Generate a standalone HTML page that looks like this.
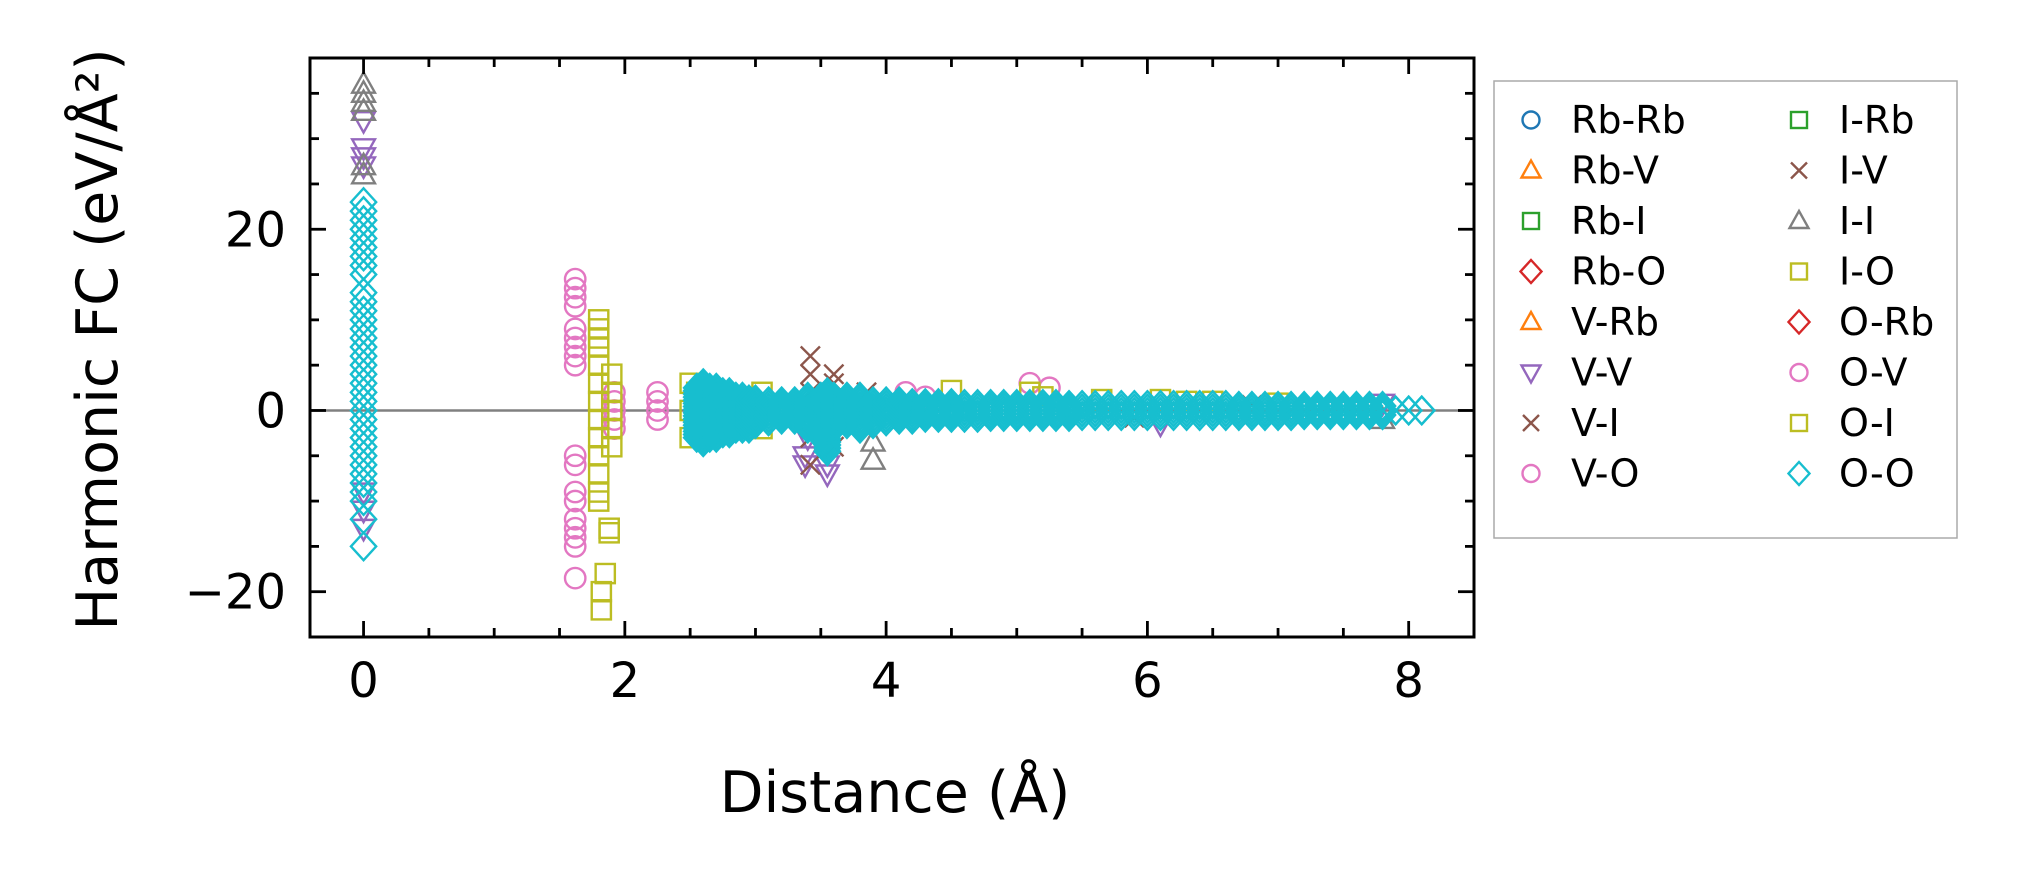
<!DOCTYPE html>
<html><head><meta charset="utf-8">
<style>
html,body{margin:0;padding:0;background:#fff;}
svg{display:block;font-family:"DejaVu Sans","Liberation Sans",sans-serif;}
</style></head>
<body>
<svg id="chart" width="2018" height="883" viewBox="0 0 2018 883" xmlns="http://www.w3.org/2000/svg">
<rect width="2018" height="883" fill="#fff"/>
<defs><clipPath id="pc"><rect x="310" y="58" width="1164" height="579"/></clipPath></defs>
<g id="marks" clip-path="url(#pc)"></g>
<g id="axes"></g>
<g id="legend"></g>
</svg>
<script>
// ---- data ----
const xTicks = [0, 2, 4, 6, 8];
const yTicks = [-20, 0, 20];
const xLabel = "Distance (Å)";
const yLabel = "Harmonic FC (eV/Å²)";

// I-I (gray up triangles)
const iiX = [0, 0, 0, 0, 0, 0, 3.9, 3.9, 7.8];
const iiY = [36, 35, 34, 33, 27, 26, -3.5, -5.5, -1];
// V-V (purple down triangles)
const vvX = [0, 0, 0, 0, 0, 0, 0, 3.38, 3.38, 3.4, 3.55, 3.55, 6.1, 7.8];
const vvY = [32, 29, 28, 27, -9, -11, -13, -6, -5, -3, -7, -6, -1.5, 0.8];
// V-I (brown crosses)
const viX = [3.42, 3.42, 3.42, 3.42, 3.42, 3.6, 3.6, 3.6, 3.7, 3.85, 5.9, 6.8];
const viY = [6, 4, 2, -3, -6, 4, 3, -4, -1.5, 2, -0.8, 0.6];
// V-O (pink circles)
const voX = [1.62,1.62,1.62,1.62,1.62,1.62,1.62,1.62,1.62,1.62,1.62,1.62,1.62,1.62,1.62,1.62,1.62,1.62,1.92,1.92,1.92,1.92,1.92,2.25,2.25,2.25,2.25,3.55,4.15,4.3,5.1,5.25];
const voY = [14.5,13.5,12.5,11.5,9,8,7,6,5,-5,-6,-9,-10,-12,-13,-14,-15,-18.5,2,1,0,-1,-2,2,1,0,-1,2,2,1.5,3,2.5];
// I-O / O-I (olive squares)
const ioX = [1.8,1.8,1.8,1.8,1.8,1.8,1.8,1.8,1.8,1.8,1.8,1.8,1.8,1.88,1.88,1.85,1.82,1.82,1.9,1.9,1.9,1.9,1.9,2.5,2.5,2.5,2.55,3.05,3.05,4.5,5.1,5.2,5.65,6.1,6.3,6.5,7.0];
const ioY = [10,9,8,7,5,3,1,-1,-3,-5,-7,-9,-10,-13,-13.5,-18,-20,-22,4,2,0,-2,-4,3,0,-3,2,2,-2,2.2,2,1.5,1.2,1.2,1,1,0.8];
// O-O (cyan diamonds)
const ooX = [0,0,0,0,0,0,0,0,0,0,0,0,0,0,0,0,0,0,0,0,0,0,0,0,0,0,0,0,0,0,0,0,0,0,0];
const ooY = [23,22,21,20,19,18,17,16,15,13,12,11,10,9,8,7,6,5,4,3,2,1,0,-1,-2,-3,-4,-5,-6,-7,-8,-9,-10,-12,-15];
const bandX  = [2.55,2.6,2.65,2.7,2.75,2.8,2.85,2.9,2.95,3.0,3.1,3.2,3.3,3.4,3.5,3.55,3.6,3.7,3.8,3.9,4.0,4.1,4.2,4.3,4.4,4.5,4.6,4.7,4.8,4.9,5.0,5.1,5.2,5.3,5.4,5.5,5.6,5.7,5.8,5.9,6.0,6.1,6.2,6.3,6.4,6.5,6.6,6.7,6.8,6.9,7.0,7.1,7.2,7.3,7.4,7.5,7.6,7.7,7.8,7.9,8.0,8.1];
const bandLo = [-3,-3.5,-3,-3,-2.5,-2.5,-2,-2,-2,-1.5,-1.2,-1,-1,-2,-3,-4.5,-2,-1.5,-2,-1.5,-1.2,-1,-1,-0.8,-0.8,-0.8,-0.8,-0.8,-0.7,-0.7,-0.7,-0.7,-0.7,-0.7,-0.7,-0.6,-0.6,-0.6,-0.6,-0.6,-0.6,-0.6,-0.6,-0.6,-0.6,-0.6,-0.6,-0.6,-0.6,-0.6,-0.6,-0.6,-0.5,-0.5,-0.5,-0.5,-0.5,-0.5,-0.5,0,0,0];
const bandHi = [2.5,3,2.5,2.5,2,2,1.5,1.5,1.2,1.2,1,1,1,1.5,1.5,2,1.5,1.5,1.5,1,1,1,0.8,0.8,0.8,0.8,0.7,0.7,0.7,0.7,0.7,0.7,0.7,0.7,0.6,0.6,0.6,0.6,0.6,0.6,0.6,0.6,0.6,0.6,0.6,0.6,0.6,0.5,0.5,0.5,0.5,0.5,0.5,0.5,0.5,0.5,0.5,0.5,0.5,0,0,0];

const legendNames = ["Rb-Rb","Rb-V","Rb-I","Rb-O","V-Rb","V-V","V-I","V-O","I-Rb","I-V","I-I","I-O","O-Rb","O-V","O-I","O-O"];
const legendColors = ["#1f77b4","#ff7f0e","#2ca02c","#d62728","#ff7f0e","#9467bd","#8c564b","#e377c2","#2ca02c","#8c564b","#7f7f7f","#bcbd22","#d62728","#e377c2","#bcbd22","#17becf"];
const legendShapes = ["o","^","s","D","^","v","x","o","s","x","^","s","D","o","s","D"];

// ---- scales ----
const L=310,R=1474,T=58,B=637, XMIN=-0.41, XMAX=8.5, YMIN=-25, YMAX=38.9;
const sx = v => L + (v - XMIN) / (XMAX - XMIN) * (R - L);
const sy = v => B - (v - YMIN) / (YMAX - YMIN) * (B - T);
const NS="http://www.w3.org/2000/svg";
function mk(tag, attrs, parent){const e=document.createElementNS(NS,tag);for(const k in attrs)e.setAttribute(k,attrs[k]);parent.appendChild(e);return e;}

function marker(shape, cx, cy, color, parent, s){
  s = s || 12;
  let e;
  const st = {fill:"none",stroke:color,"stroke-width":2.4};
  if(shape==="o") e = mk("circle",Object.assign({cx:cx,cy:cy,r:s*0.85},st),parent);
  else if(shape==="s") e = mk("rect",Object.assign({x:cx-s*0.8,y:cy-s*0.8,width:s*1.6,height:s*1.6},st),parent);
  else if(shape==="D") e = mk("polygon",Object.assign({points:`${cx},${cy-s*1.15} ${cx+s*1.05},${cy} ${cx},${cy+s*1.15} ${cx-s*1.05},${cy}`},st),parent);
  else if(shape==="^") e = mk("polygon",Object.assign({points:`${cx},${cy-s} ${cx+s*0.95},${cy+s*0.7} ${cx-s*0.95},${cy+s*0.7}`},st),parent);
  else if(shape==="v") e = mk("polygon",Object.assign({points:`${cx},${cy+s} ${cx+s*0.95},${cy-s*0.7} ${cx-s*0.95},${cy-s*0.7}`},st),parent);
  else { e = mk("path",Object.assign({d:`M${cx-s*0.8},${cy-s*0.8}L${cx+s*0.8},${cy+s*0.8}M${cx-s*0.8},${cy+s*0.8}L${cx+s*0.8},${cy-s*0.8}`},st),parent); }
  return e;
}

const marks = document.getElementById('marks');
const zl = mk("line",{x1:L,x2:R,y1:sy(0),y2:sy(0),stroke:"#808080","stroke-width":2.5},marks);



function series(xs, ys, shape, color, name){
  const g = mk("g",{},marks);
  
  
  for(let i=0;i<xs.length;i++){
    const m = marker(shape, sx(xs[i]), sy(ys[i]), color, g);
    
    
  }
}
series(vvX, vvY, "v", "#9467bd", "series-v-v");
series(viX, viY, "x", "#8c564b", "series-v-i");
series(voX, voY, "o", "#e377c2", "series-v-o");
series(iiX, iiY, "^", "#7f7f7f", "series-i-i");
series(ioX, ioY, "s", "#bcbd22", "series-o-i");
series(ooX, ooY, "D", "#17becf", "series-o-o");
(function(){
  const g = mk("g",{},marks);
  
  
  for(let i=0;i<bandX.length;i++){
    const lo=bandLo[i], hi=bandHi[i];
    const n = Math.max(1, Math.round((hi-lo)/0.35));
    for(let k=0;k<=n;k++){
      const y = lo + (hi-lo)*k/n;
      const m = marker("D", sx(bandX[i]), sy(y), "#17becf", g);
      
      
    }
  }
})();

// ---- axes ----
const ax = document.getElementById('axes');
const fr = mk("rect",{x:L,y:T,width:R-L,height:B-T,fill:"none",stroke:"#000","stroke-width":3},ax);


for(let v=0; v<=8.5; v+=0.5){
  const major = Math.abs(v - Math.round(v/2)*2) < 1e-9;
  const len = major?16:9, x=sx(v);
  mk("line",{x1:x,x2:x,y1:B,y2:B-len,stroke:"#000","stroke-width":2.8},ax);
  mk("line",{x1:x,x2:x,y1:T,y2:T+len,stroke:"#000","stroke-width":2.8},ax);
}
for(let v=-25; v<=38; v+=5){
  const major = v%20===0;
  const len = major?16:9, y=sy(v);
  mk("line",{x1:L,x2:L+len,y1:y,y2:y,stroke:"#000","stroke-width":2.8},ax);
  mk("line",{x1:R,x2:R-len,y1:y,y2:y,stroke:"#000","stroke-width":2.8},ax);
}
xTicks.forEach(v=>{
  const t = mk("text",{x:sx(v),y:B+60,"text-anchor":"middle","font-size":48,fill:"#000"},ax);
  t.textContent = String(v);
  
  
});
yTicks.forEach(v=>{
  const t = mk("text",{x:L-24,y:sy(v)+17,"text-anchor":"end","font-size":48,fill:"#000"},ax);
  t.textContent = v<0 ? "−"+Math.abs(v) : String(v);
  
  
});
const xl = mk("text",{x:(L+R)/2+3,y:812,"text-anchor":"middle","font-size":57,fill:"#000"},ax);
xl.textContent = xLabel;


const yl = mk("text",{x:0,y:0,"text-anchor":"middle","font-size":57,fill:"#000",transform:`translate(117,${(T+B)/2 -8}) rotate(-90)`},ax);
yl.textContent = yLabel;



// ---- legend ----
const lg = document.getElementById('legend');
const lb = mk("rect",{x:1494,y:81,width:463,height:457,fill:"#fff",stroke:"#aaa","stroke-width":1.5},lg);


legendNames.forEach((nm,i)=>{
  const col = Math.floor(i/8), row = i%8;
  const x0 = 1531 + col*268, y0 = 120 + row*50.5;
  const g = mk("g",{},lg);
  
  
  marker(legendShapes[i], x0, y0, legendColors[i], g, 10);
  const t = mk("text",{x:x0+40,y:y0+13,"font-size":38,fill:"#000"},g);
  t.textContent = nm;
});
</script>
</body></html>
